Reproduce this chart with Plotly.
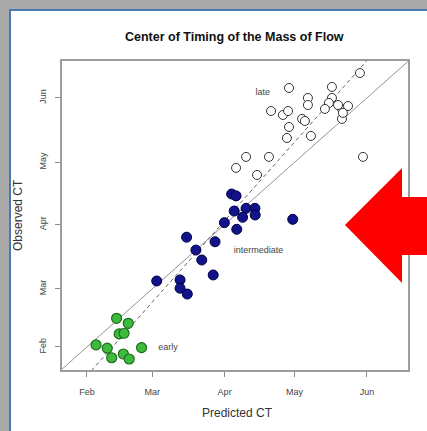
import plotly.graph_objects as go

# Day-of-year values (Feb 1 = 32 ... Jun 1 = 152)
month_ticks = [32, 60, 91, 121, 152]
month_labels = ["Feb", "Mar", "Apr", "May", "Jun"]

# Early-melt basins
early_pred = [44.7, 49.7, 45.8, 47.9, 35.9, 40.7, 55.4, 42.6, 47.6, 50.1]
early_obs = [45.8, 43.4, 38.3, 38.6, 33.0, 31.4, 31.7, 26.8, 28.6, 26.2]

# Intermediate basins
mid_pred = [94.0, 95.9, 95.1, 100.2, 104.0, 98.7, 104.1, 90.9, 96.2, 120.2,
            74.7, 86.9, 78.7, 81.2, 86.1, 61.9, 71.9, 71.9, 75.0]
mid_obs = [105.7, 104.8, 97.5, 98.8, 98.8, 94.5, 95.6, 91.9, 88.7, 93.5,
           84.9, 82.7, 78.7, 73.9, 66.7, 63.8, 64.3, 60.3, 57.5]

# Late-melt basins
late_pred = [149.0, 118.6, 137.0, 126.7, 126.7, 137.0, 135.7, 134.0, 141.3, 143.9,
             141.3, 139.6, 141.7, 110.9, 116.0, 118.2, 124.2, 125.4, 118.6, 117.7,
             128.0, 100.2, 110.0, 95.9, 104.9, 150.3]
late_obs = [164.0, 156.8, 157.3, 152.0, 148.6, 152.0, 149.6, 146.7, 146.7, 148.1,
            141.9, 148.6, 144.8, 145.7, 143.8, 145.7, 141.9, 140.9, 138.0, 132.7,
            133.7, 123.6, 123.6, 118.3, 114.9, 123.6]

# Group labels
label_text = ["late", "intermediate", "early"]
label_x = [107.4, 105.5, 66.7]
label_y = [154.4, 78.3, 31.5]

# Fitted line: observed = intercept + slope * predicted
fit_intercept = -22.3
fit_slope = 1.265

x_range = [21.3, 169.6]
y_range = [20.9, 169.8]

fig = go.Figure()

# 1:1 reference line
fig.add_trace(go.Scatter(
    x=[0, 200], y=[0, 200], mode="lines",
    line=dict(color="#9a9096", width=1), hoverinfo="skip"))

# fitted dashed line
fit_x = [0, 200]
fit_y = [fit_intercept + fit_slope * v for v in fit_x]
fig.add_trace(go.Scatter(
    x=fit_x, y=fit_y, mode="lines",
    line=dict(color="#666666", width=1, dash="4px,3px"), hoverinfo="skip"))

fig.add_trace(go.Scatter(
    x=late_pred, y=late_obs, mode="markers",
    marker=dict(size=9, color="white", line=dict(color="#333333", width=1))))

fig.add_trace(go.Scatter(
    x=mid_pred, y=mid_obs, mode="markers",
    marker=dict(size=10, color="#12128a", line=dict(color="#000045", width=1))))

fig.add_trace(go.Scatter(
    x=early_pred, y=early_obs, mode="markers",
    marker=dict(size=10, color="#3dbb3d", line=dict(color="#1d6a1d", width=1.2))))

fig.add_trace(go.Scatter(
    x=label_x, y=label_y, mode="text", text=label_text,
    textfont=dict(size=9, color="#444444", family="Liberation Sans"),
    textposition="middle center"))

axis_common = dict(
    showgrid=False, zeroline=False, showline=True, mirror=True,
    linecolor="#9c9c9c", linewidth=1.5,
    ticks="outside", ticklen=5, tickcolor="#8a8a8a", tickwidth=1,
    tickvals=month_ticks, ticktext=month_labels,
    tickfont=dict(size=9, color="#444444", family="Liberation Sans"),
)

fig.update_xaxes(range=x_range, ticklabelstandoff=7, **axis_common)
fig.update_yaxes(range=y_range, tickangle=-90, ticklabelstandoff=6, **axis_common)

# pixel -> paper helpers for the decorations around the plot
L, R, T, B = 62, 19, 61, 61
W, H = 427, 431
pw, ph = W - L - R, H - T - B


def px(x):
    return (x - L) / pw


def py(y):
    return (H - B - y) / ph


shapes = [
    # white slide panel with blue edge
    dict(type="rect", xref="paper", yref="paper", layer="below",
         x0=px(10), x1=px(440), y0=py(10), y1=py(445),
         fillcolor="white", line=dict(color="#4a78b4", width=2)),
]

arrow_pts = [(345, 225), (402, 168), (402, 197), (440, 197),
             (440, 255), (402, 255), (402, 283)]
path = "M " + " L ".join(f"{px(a):.4f},{py(b):.4f}" for a, b in arrow_pts) + " Z"
shapes.append(dict(type="path", xref="paper", yref="paper", layer="above",
                   path=path, fillcolor="#ff0000", line=dict(width=0)))

annotations = [
    dict(text="<b>Center of Timing of the Mass of Flow</b>", xref="paper", yref="paper",
         x=px(234), y=py(37), showarrow=False, xanchor="center", yanchor="middle",
         font=dict(size=12.5, color="#111111", family="Liberation Sans")),
    dict(text="Predicted CT", xref="paper", yref="paper",
         x=px(237), y=py(413), showarrow=False, xanchor="center", yanchor="middle",
         font=dict(size=12, color="#333333", family="Liberation Sans")),
    dict(text="Observed CT", xref="paper", yref="paper", textangle=-90,
         x=px(18), y=py(215), showarrow=False, xanchor="center", yanchor="middle",
         font=dict(size=12, color="#333333", family="Liberation Sans")),
]

fig.update_layout(
    width=W, height=H,
    margin=dict(l=L, r=R, t=T, b=B),
    paper_bgcolor="#a9a9a9", plot_bgcolor="white",
    showlegend=False,
    shapes=shapes, annotations=annotations,
)

fig.write_html("out.html")
